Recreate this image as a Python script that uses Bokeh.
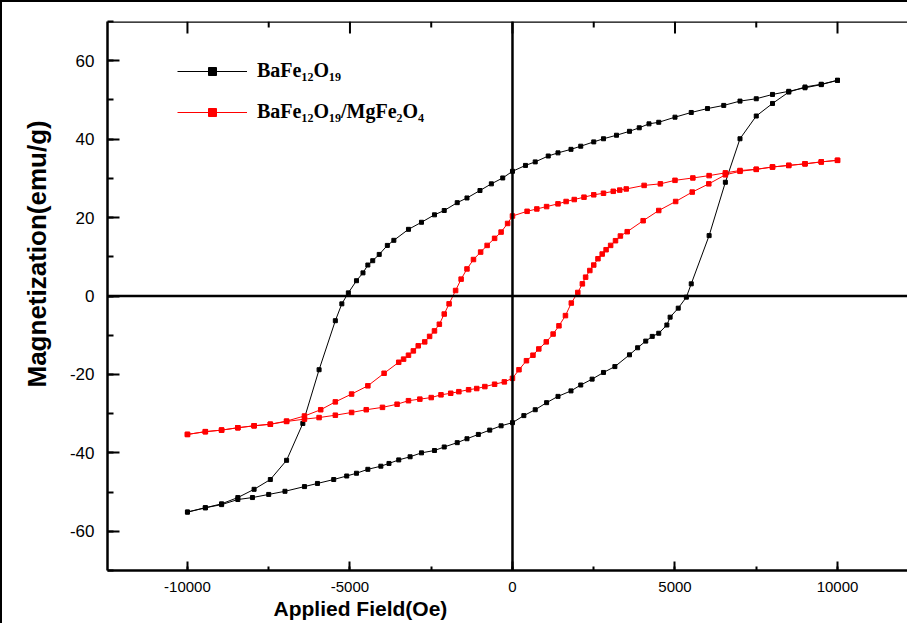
from bokeh.plotting import figure
from bokeh.models import (Span, SingleIntervalTicker, Legend, LegendItem,
                          Range1d, Title, PrintfTickFormatter)
from bokeh.embed import file_html
from bokeh.resources import INLINE

# ---------------- data ----------------
# BaFe12O19 : descending branch (+10000 -> -10000)
ba_down_h = [10000, 9500, 9000, 8500, 8000, 7500, 7000, 6500, 6000, 5500, 5000,
             4500, 4200, 3900, 3600, 3200, 2800, 2500, 2100, 1800, 1400, 1100,
             700, 400, 0, -300, -650, -1000, -1400, -1700, -2100, -2400, -2800,
             -3200, -3650, -3850, -4100, -4300, -4450, -4600, -4800, -5050,
             -5250, -5450, -5950, -6450, -6950, -7450, -7950, -8450, -8950,
             -9450, -10000]
ba_down_m = [55.0, 53.9, 53.1, 52.2, 51.4, 50.3, 49.7, 48.6, 47.8, 46.8, 45.6,
             44.3, 43.9, 42.9, 42.0, 41.0, 40.1, 39.3, 38.2, 37.4, 36.5, 35.7,
             34.2, 33.3, 31.8, 30.1, 28.6, 26.9, 25.0, 23.8, 21.8, 20.7, 18.8,
             17.0, 14.2, 12.9, 10.6, 9.0, 7.9, 5.9, 3.9, 0.8, -2.0, -6.3, -18.8,
             -32.5, -41.9, -46.8, -49.3, -51.4, -53.0, -54.0, -55.1]
# BaFe12O19 : ascending branch (-10000 -> +10000)
ba_up_h = [-10000, -9450, -8950, -8450, -8000, -7500, -7000, -6400, -6000,
           -5500, -5100, -4800, -4450, -4050, -3800, -3500, -3150, -2800,
           -2400, -2100, -1700, -1400, -1050, -700, -350, 0, 350, 700, 1050,
           1400, 1800, 2100, 2450, 2800, 3150, 3600, 3850, 4100, 4300, 4500,
           4750, 4850, 5100, 5350, 5500, 6050, 6550, 7000, 7500, 8000, 8500,
           9000, 9500, 10000]
ba_up_m = [-55.1, -54.0, -53.2, -51.9, -51.4, -50.6, -49.8, -48.6, -47.8,
           -46.8, -45.9, -45.2, -44.2, -43.4, -42.7, -41.8, -41.0, -40.0,
           -39.4, -38.5, -37.4, -36.4, -35.3, -34.2, -33.1, -32.3, -30.5,
           -29.0, -27.2, -25.6, -24.2, -22.7, -21.2, -19.5, -18.0, -15.0,
           -13.2, -11.5, -10.3, -9.5, -7.4, -5.4, -3.1, -0.3, 3.1, 15.4, 29.0,
           40.1, 45.9, 49.1, 52.0, 53.3, 54.0, 55.0]

# BaFe12O19/MgFe2O4 : descending branch
comp_down_h = [10000, 9500, 9000, 8500, 8000, 7500, 7000, 6550, 6050, 5550,
               5000, 4550, 4050, 3500, 3300, 3100, 2800, 2500, 2200, 1900,
               1650, 1400, 1050, 750, 450, 0, -150, -350, -550, -780, -980,
               -1200, -1400, -1580, -1750, -1950, -2100, -2250, -2400, -2550,
               -2700, -2900, -3050, -3200, -3350, -3500, -3950, -4450, -4950,
               -5450, -5900, -6400, -6950, -7450, -7950, -8450, -8950, -9450,
               -10000]
comp_down_m = [34.6, 34.2, 33.7, 33.3, 32.9, 32.3, 32.0, 31.4, 30.7, 30.1,
               29.5, 28.6, 28.2, 27.3, 27.0, 26.7, 26.2, 25.8, 25.2, 24.6,
               24.1, 23.5, 22.8, 22.2, 21.6, 20.4, 18.5, 16.3, 14.7, 12.9,
               11.2, 9.3, 6.9, 4.3, 1.4, -2.0, -4.6, -7.2, -8.9, -10.3, -11.7,
               -12.7, -14.0, -15.1, -16.1, -16.9, -19.7, -22.9, -25.0, -27.0,
               -29.0, -30.6, -31.9, -32.7, -33.1, -33.6, -34.2, -34.6, -35.3]
# BaFe12O19/MgFe2O4 : ascending branch
comp_up_h = [-10000, -9450, -8950, -8450, -7950, -7450, -6950, -6400, -5950,
             -5450, -4950, -4500, -4000, -3550, -3200, -2850, -2500, -2200,
             -1900, -1650, -1350, -1100, -850, -550, -250, 0, 200, 430, 630,
             810, 1040, 1250, 1430, 1630, 1810, 2010, 2150, 2250, 2380, 2500,
             2630, 2760, 2880, 3020, 3170, 3320, 3530, 4020, 4500, 5020, 5530,
             6040, 6550, 7000, 7500, 8000, 8500, 9000, 9500, 10000]
comp_up_m = [-35.3, -34.6, -34.2, -33.6, -33.1, -32.7, -32.0, -31.4, -31.0,
             -30.4, -29.7, -29.0, -28.4, -27.6, -26.7, -26.3, -25.9, -25.2,
             -24.8, -24.4, -23.9, -23.6, -23.1, -22.5, -21.9, -21.0, -18.8,
             -16.5, -15.1, -13.5, -11.7, -9.7, -7.6, -5.0, -1.8, 0.9, 3.1, 4.8,
             6.5, 7.9, 9.5, 10.7, 11.8, 12.9, 14.1, 15.3, 16.4, 19.2, 21.8,
             24.1, 26.5, 28.6, 30.9, 31.8, 32.3, 32.9, 33.3, 33.7, 34.2, 34.6]

series_labels = ["BaFe\u2081\u2082O\u2081\u2089",
                 "BaFe\u2081\u2082O\u2081\u2089/MgFe\u2082O\u2084"]
x_title = "Applied Field(Oe)"
y_title = "Magnetization(emu/g)"

# tick positions for the top edge
x_major = [-10000, -5000, 0, 5000, 10000]
x_minor = [-7500, -2500, 2500, 7500]

# ---------------- figure ----------------
FW, FH = 802, 549          # frame size in px
X0, X1, Y0, Y1 = -12460, 12215, -70, 70
p = figure(width=907, height=623, output_backend="svg", toolbar_location=None,
           x_range=Range1d(X0, X1), y_range=Range1d(Y0, Y1),
           min_border_left=105, min_border_right=0, min_border_top=19,
           min_border_bottom=55)
p.styles = {"border-left": "2px solid black", "border-top": "2px solid black"}
p.xgrid.visible = False
p.ygrid.visible = False
p.outline_line_color = None

sans = "'Liberation Sans', Arial, sans-serif"

xa = p.xaxis[0]
ya = p.yaxis[0]
xa.ticker = SingleIntervalTicker(interval=5000, num_minor_ticks=2)
ya.ticker = SingleIntervalTicker(interval=20, num_minor_ticks=2)
for ax in (xa, ya):
    ax.formatter = PrintfTickFormatter(format="%d")
    ax.axis_line_width = 2.5
    ax.axis_line_color = "black"
    ax.major_tick_line_color = "black"
    ax.minor_tick_line_color = "black"
    ax.major_tick_line_width = 2
    ax.minor_tick_line_width = 2
    ax.major_tick_out = 0
    ax.minor_tick_out = 0
    ax.major_label_text_color = "black"
    ax.major_label_text_font = sans
xa.major_tick_in = 9
xa.minor_tick_in = 4
ya.major_tick_in = 12
ya.minor_tick_in = 6

xa.major_label_text_font_size = "15px"
xa.major_label_standoff = 11
ya.major_label_text_font_size = "17px"
ya.major_label_standoff = 13

# axis titles (placed like the original, not centred on the frame)
p.add_layout(Title(text=y_title, align="left", offset=183, standoff=30,
                   text_font=sans, text_font_size="26px",
                   text_font_style="bold", text_color="black"), "left")
p.add_layout(Title(text=x_title, align="left", offset=166, standoff=0,
                   text_font=sans, text_font_size="21px",
                   text_font_style="bold", text_color="black"), "below")

# top edge of the box and its inward ticks
ky = (Y1 - Y0) / FH   # data units per pixel, y
p.add_layout(Span(location=Y1, dimension="width", line_color="black",
                  line_width=2.5))
p.segment(x0=x_major, y0=[Y1] * len(x_major), x1=x_major,
          y1=[Y1 - 12 * ky] * len(x_major), line_color="black", line_width=2)
p.segment(x0=x_minor, y0=[Y1] * len(x_minor), x1=x_minor,
          y1=[Y1 - 6 * ky] * len(x_minor), line_color="black", line_width=2)

# zero lines
p.add_layout(Span(location=0, dimension="height", line_color="black",
                  line_width=2.5))
p.add_layout(Span(location=0, dimension="width", line_color="black",
                  line_width=2.5))

# series
ba_h = ba_down_h + ba_up_h
ba_m = ba_down_m + ba_up_m
comp_h = comp_down_h + comp_up_h
comp_m = comp_down_m + comp_up_m

l1 = p.line(ba_h, ba_m, line_color="black", line_width=1)
s1 = p.scatter(ba_h, ba_m, marker="square", size=4, fill_color="black",
               line_color="black")
l2 = p.line(comp_h, comp_m, line_color="red", line_width=1)
s2 = p.scatter(comp_h, comp_m, marker="square", size=4.5, fill_color="red",
               line_color="red")

legend = Legend(items=[LegendItem(label=series_labels[0], renderers=[l1, s1]),
                       LegendItem(label=series_labels[1], renderers=[l2, s2])],
                location=(70, 447), orientation="vertical")
legend.label_text_font = "'Liberation Serif', 'Times New Roman', serif"
legend.label_text_font_style = "bold"
legend.label_text_font_size = "20px"
legend.label_text_color = "black"
legend.glyph_width = 70
legend.glyph_height = 20
legend.label_height = 20
legend.label_standoff = 10
legend.spacing = 18
legend.padding = 0
legend.margin = 0
legend.border_line_color = None
legend.background_fill_alpha = 0
p.add_layout(legend)

open("out.html", "w").write(file_html(p, INLINE))
